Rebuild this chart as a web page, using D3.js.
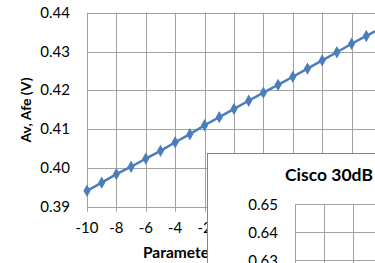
<!DOCTYPE html>
<html>
<head>
<meta charset="utf-8">
<script src="https://cdn.jsdelivr.net/npm/d3@7"></script>
<style>
  body { margin: 0; background: #fff; overflow: hidden; }
  svg { display: block; font-family: Lato, Calibri, "Open Sans", sans-serif; }
</style>
</head>
<body>
<div id="chart"></div>
<script>
// values
const params = [-10, -9, -8, -7, -6, -5, -4, -3, -2, -1, 0, 1, 2, 3, 4, 5, 6, 7, 8, 9, 10]
const avAfe = [0.3941, 0.3962, 0.3984, 0.4003, 0.4024, 0.4044, 0.4066, 0.4087, 0.4110, 0.4131,
  0.4152, 0.4173, 0.4194, 0.4214, 0.4235, 0.4256, 0.4277, 0.4298, 0.4320, 0.4340, 0.4360]
const xTicks = [-10, -8, -6, -4, -2, 0, 2, 4, 6, 8, 10]
const yTicks = [0.39, 0.40, 0.41, 0.42, 0.43, 0.44]
const ciscoTitle = 'Cisco 30dB'
const ciscoYTicks = [0.63, 0.64, 0.65]
const ciscoXTicks = [-10, -8, -6, -4, -2, 0]

const width = 375
const height = 263
const gridColor = '#a2a2a2'
const lineColor = '#4a7ebb'

const svg = d3.select('#chart').append('svg')
  .attr('width', width)
  .attr('height', height)

const x = d3.scaleLinear().domain([-10, 10]).range([87, 381])
const y = d3.scaleLinear().domain([0.39, 0.44]).range([206.7, 12.7])

const main = svg.append('g').attr('class', 'main')

// grid
main.append('g').selectAll('line.h').data(yTicks).enter().append('line')
  .attr('x1', x(-10)).attr('x2', x(10))
  .attr('y1', d => Math.round(y(d)) + 0.5).attr('y2', d => Math.round(y(d)) + 0.5)
  .attr('stroke', gridColor)
main.append('g').selectAll('line.v').data(xTicks).enter().append('line')
  .attr('x1', d => Math.round(x(d)) + 0.5).attr('x2', d => Math.round(x(d)) + 0.5)
  .attr('y1', y(0.44)).attr('y2', y(0.39) + 5)
  .attr('stroke', gridColor)

// tick labels
main.append('g').selectAll('text').data(yTicks).enter().append('text')
  .attr('x', 70).attr('y', d => y(d) + 5)
  .attr('text-anchor', 'end')
  .attr('font-size', 15)
  .attr('fill', '#000')
  .text(d3.format('.2f'))
main.append('g').selectAll('text').data(xTicks).enter().append('text')
  .attr('x', d => x(d)).attr('y', 233)
  .attr('text-anchor', 'middle')
  .attr('font-size', 15)
  .attr('fill', '#000')
  .text(d => d)

// axis titles
main.append('text')
  .attr('transform', 'translate(31,110) rotate(-90)')
  .attr('text-anchor', 'middle')
  .attr('font-size', 14)
  .attr('font-weight', 'bold')
  .text('Av, Afe (V)')
main.append('text')
  .attr('x', 143).attr('y', 258)
  .attr('font-size', 15.5)
  .attr('font-weight', 'bold')
  .text('Parameter')

// series
const pts = params.map((p, i) => [p, avAfe[i]])
main.append('path')
  .datum(pts)
  .attr('fill', 'none')
  .attr('stroke', lineColor)
  .attr('stroke-width', 2.5)
  .attr('d', d3.line().x(d => x(d[0])).y(d => y(d[1])))
main.append('g').selectAll('path').data(pts).enter().append('path')
  .attr('transform', d => `translate(${x(d[0])},${y(d[1])})`)
  .attr('d', d3.symbol(d3.symbolDiamond, 44))
  .attr('fill', lineColor)

// overlapping second chart
const cisco = svg.append('g').attr('class', 'cisco')
cisco.append('rect')
  .attr('x', 207.5).attr('y', 153.5)
  .attr('width', 300).attr('height', 200)
  .attr('fill', '#fff')
  .attr('stroke', '#868686')

const cx = d3.scaleLinear().domain([-10, 0]).range([295, 441])
const cy = d3.scaleLinear().domain([0.63, 0.65]).range([260.3, 204.3])

cisco.append('text')
  .attr('x', 285).attr('y', 181)
  .attr('font-size', 17.5)
  .attr('font-weight', 'bold')
  .text(ciscoTitle)

cisco.append('g').selectAll('line').data(ciscoYTicks).enter().append('line')
  .attr('x1', cx(-10)).attr('x2', 400)
  .attr('y1', d => Math.round(cy(d)) + 0.5).attr('y2', d => Math.round(cy(d)) + 0.5)
  .attr('stroke', gridColor)
cisco.append('g').selectAll('line.v').data(ciscoXTicks).enter().append('line')
  .attr('x1', d => Math.round(cx(d)) + 0.5).attr('x2', d => Math.round(cx(d)) + 0.5)
  .attr('y1', cy(0.65)).attr('y2', 300)
  .attr('stroke', gridColor)
cisco.append('g').selectAll('text').data(ciscoYTicks).enter().append('text')
  .attr('x', 278).attr('y', d => cy(d) + 5.5)
  .attr('text-anchor', 'end')
  .attr('font-size', 15)
  .text(d3.format('.2f'))
</script>
</body>
</html>
